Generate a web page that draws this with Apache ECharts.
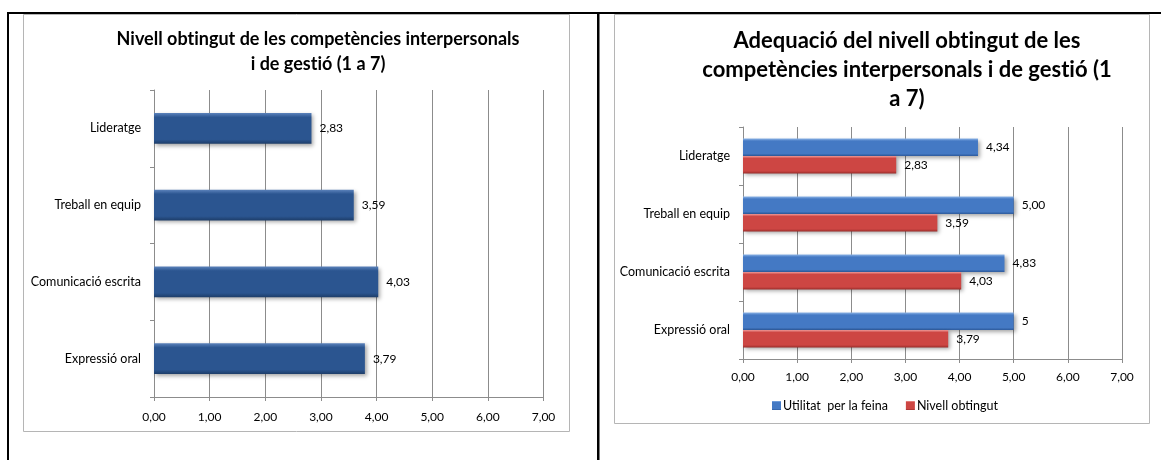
<!DOCTYPE html>
<html>
<head>
<meta charset="utf-8">
<script src="https://cdn.jsdelivr.net/npm/echarts@6/dist/echarts.min.js"></script>
<style>
  html, body { margin: 0; padding: 0; background: #ffffff; }
  #chart { width: 1161px; height: 460px; }
</style>
</head>
<body>
<div id="chart"></div>
<script>
// Competències interpersonals i de gestió (escala 1 a 7)
const categories = ['Lideratge', 'Treball en equip', 'Comunicació escrita', 'Expressió oral'];
const nivellObtingut = [2.83, 3.59, 4.03, 3.79];
const utilitatFeina = [4.34, 5.00, 4.83, 5];
const utilitatLabels = ['4,34', '5,00', '4,83', '5'];
const seriesNames = ['Utilitat  per la feina', 'Nivell obtingut'];
const axisMin = 0, axisMax = 7, axisStep = 1;

const titleLeft = 'Nivell obtingut de les competències interpersonals\ni de gestió (1 a 7)';
const titleRight = 'Adequació del nivell obtingut de les\ncompetències interpersonals i de gestió (1\na 7)';

const FONT = 'Lato, "Open Sans", sans-serif';
const fmt = v => v.toFixed(2).replace('.', ',');
// keep "t" and "i" as separate glyphs (no ligature) in the bold titles
const noLig = s => s.replace(/ti/g, 't\u200Ci');

function bevel(light, mid, dark) {
  return new echarts.graphic.LinearGradient(0, 0, 0, 1, [
    { offset: 0, color: light },
    { offset: 0.14, color: mid },
    { offset: 0.86, color: mid },
    { offset: 1, color: dark }
  ]);
}

const darkBlue = bevel('#5b82bb', '#2b5590', '#1d3d69');
const blue = bevel('#8ab2e6', '#4479c4', '#2d5a9c');
const red = bevel('#ee9a98', '#cd4643', '#9b2d2b');

function valueAxis(gridIndex, labelMargin) {
  return {
    type: 'value', gridIndex: gridIndex,
    min: axisMin, max: axisMax, interval: axisStep,
    axisLine: { show: true, lineStyle: { color: '#8c8c8c', width: 1 } },
    axisTick: { show: true, length: 4, lineStyle: { color: '#8c8c8c' } },
    splitLine: { show: true, lineStyle: { color: '#8c8c8c', width: 1 } },
    axisLabel: { formatter: fmt, color: '#000', fontSize: 12, fontFamily: FONT, margin: labelMargin }
  };
}

function categoryAxis(gridIndex) {
  return {
    type: 'category', gridIndex: gridIndex, data: categories, inverse: true,
    axisLine: { show: true, lineStyle: { color: '#8c8c8c', width: 1 } },
    axisTick: { show: true, length: 4, alignWithLabel: false, lineStyle: { color: '#8c8c8c' } },
    axisLabel: { color: '#000', fontSize: 12.5, fontFamily: FONT, margin: 13 }
  };
}

const labelStyle = { show: true, position: 'right', distance: 8, color: '#000', fontSize: 12, fontFamily: FONT };
const shadow = { shadowColor: 'rgba(0,0,0,0.35)', shadowBlur: 4, shadowOffsetX: 2, shadowOffsetY: 2 };

const chart = echarts.init(document.getElementById('chart'), null, { renderer: 'canvas' });

chart.setOption({
  animation: false,
  backgroundColor: '#ffffff',
  grid: [
    { left: 154, right: 1161 - 543.5, top: 90, bottom: 460 - 397 },
    { left: 743, right: 1161 - 1122, top: 127, bottom: 460 - 359 }
  ],
  xAxis: [valueAxis(0, 14), valueAxis(1, 12)],
  yAxis: [categoryAxis(0), categoryAxis(1)],
  legend: {
    data: seriesNames,
    left: 772, top: 399, padding: 0,
    icon: 'rect', itemWidth: 9, itemHeight: 9, itemGap: 18,
    textStyle: { color: '#000', fontSize: 12.5, fontFamily: FONT, padding: [0, 0, 0, -3] }
  },
  graphic: [
    // table rules
    { type: 'rect', shape: { x: 7, y: 12, width: 1154, height: 2 }, style: { fill: '#000' }, silent: true },
    { type: 'rect', shape: { x: 7, y: 12, width: 2, height: 448 }, style: { fill: '#000' }, silent: true },
    { type: 'rect', shape: { x: 597, y: 12, width: 2.5, height: 448 }, style: { fill: '#000' }, silent: true },
    // chart frames
    { type: 'rect', shape: { x: 23.5, y: 14.5, width: 546, height: 417 }, style: { fill: 'none', stroke: '#b5b5b5', lineWidth: 1 }, silent: true },
    { type: 'rect', shape: { x: 614.5, y: 14.5, width: 535, height: 409 }, style: { fill: 'none', stroke: '#b5b5b5', lineWidth: 1 }, silent: true },
    // titles
    { type: 'text', x: 318, y: 52, silent: true,
      style: { text: noLig(titleLeft), font: 'bold 18px ' + FONT, fill: '#000', textAlign: 'center', textVerticalAlign: 'middle', lineHeight: 25 } },
    { type: 'text', x: 907, y: 70, silent: true,
      style: { text: noLig(titleRight), font: 'bold 22px ' + FONT, fill: '#000', textAlign: 'center', textVerticalAlign: 'middle', lineHeight: 29 } }
  ],
  series: [
    {
      type: 'bar', xAxisIndex: 0, yAxisIndex: 0,
      data: nivellObtingut,
      barCategoryGap: '60%',
      itemStyle: Object.assign({ color: darkBlue }, shadow),
      label: Object.assign({ formatter: p => fmt(p.value) }, labelStyle)
    },
    {
      name: seriesNames[0], type: 'bar', xAxisIndex: 1, yAxisIndex: 1,
      data: utilitatFeina,
      barCategoryGap: '40%', barGap: '0%',
      itemStyle: Object.assign({ color: blue }, shadow),
      label: Object.assign({ formatter: p => utilitatLabels[p.dataIndex] }, labelStyle)
    },
    {
      name: seriesNames[1], type: 'bar', xAxisIndex: 1, yAxisIndex: 1,
      data: nivellObtingut,
      barCategoryGap: '40%', barGap: '0%',
      itemStyle: Object.assign({ color: red }, shadow),
      label: Object.assign({ formatter: p => fmt(p.value) }, labelStyle)
    }
  ]
});
</script>
</body>
</html>
